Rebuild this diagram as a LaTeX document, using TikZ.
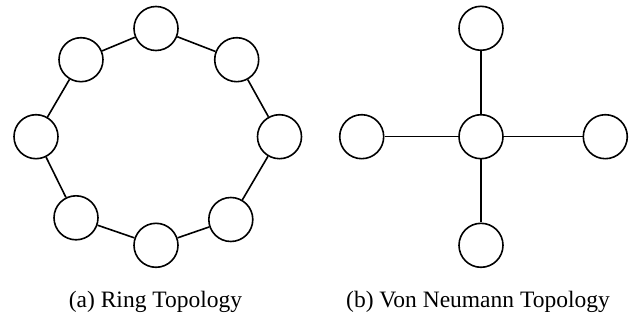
\documentclass[tikz,border=0pt]{standalone}
\usepackage{fontspec}
\setmainfont{Liberation Serif}
\begin{document}
\begin{tikzpicture}[x=1pt,y=-1pt,
  nd/.style={circle,draw,line width=1.6pt,minimum size=44pt,inner sep=0pt},
  ln/.style={line width=1.6pt},
  captxt/.style={anchor=base,inner sep=0pt,font=\fontsize{23.5}{28}\selectfont}]
\useasboundingbox (0,0) rectangle (637,320);
% ring
\node[nd] (r1) at (156,28.5) {};
\node[nd] (r2) at (236.7,59.7) {};
\node[nd] (r3) at (279.5,136.7) {};
\node[nd] (r4) at (230.8,219.5) {};
\node[nd] (r5) at (156,245.3) {};
\node[nd] (r6) at (76,217.8) {};
\node[nd] (r7) at (36,136.7) {};
\node[nd] (r8) at (81,59.7) {};
\draw[ln] (r1)--(r2) (r2)--(r3) (r3)--(r4) (r4)--(r5) (r5)--(r6) (r6)--(r7) (r7)--(r8) (r8)--(r1);
% von neumann
\node[nd] (c) at (481,136.7) {};
\node[nd] (t) at (481,28.3) {};
\node[nd] (b) at (481,245.3) {};
\node[nd] (l) at (361.7,136.7) {};
\node[nd] (r) at (605.3,136.7) {};
\draw[ln] (c)--(t) (c)--(b) (c)--(l) (c)--(r);
\node[captxt] (ca) at (155.5,307) {(a) Ring Topology};
\node[captxt] (cb) at (478,307) {(b) Von Neumann Topology};
\end{tikzpicture}
\end{document}
